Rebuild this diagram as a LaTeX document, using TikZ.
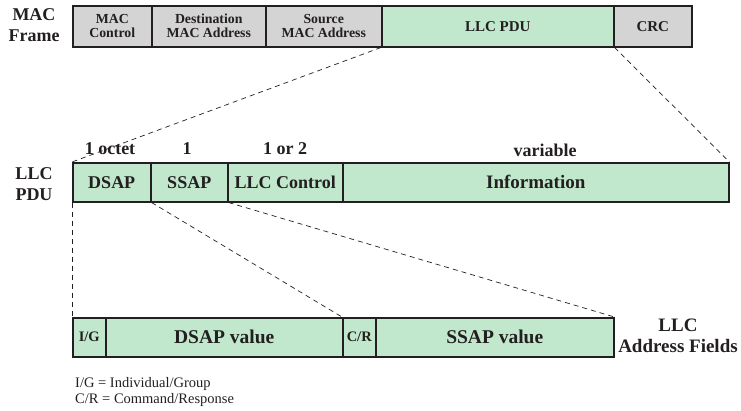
\documentclass[tikz,border=0pt]{standalone}
\usepackage{fontspec}
\setmainfont{Liberation Serif}
\definecolor{macgray}{RGB}{212,212,212}
\definecolor{llcgreen}{RGB}{193,232,205}
\definecolor{ink}{RGB}{35,31,32}
\begin{document}
\begin{tikzpicture}[x=1pt,y=-1pt,
  field/.style={draw=ink,line width=1.5pt,inner sep=0pt,anchor=north west,align=center,text=ink,font=\bfseries},
  gray/.style={fill=macgray},
  green/.style={fill=llcgreen},
  lbl/.style={text=ink,font=\bfseries\fontsize{18}{21}\selectfont,align=center,inner sep=0pt},
  dashline/.style={draw=ink,line width=0.7pt,dash pattern=on 5pt off 4pt}]
\useasboundingbox (0,0) rectangle (741,410);
% MAC frame
\def\ta{\fontsize{13.8}{14}\selectfont}
\node[field,gray,minimum width=79pt,minimum height=41pt,font=\bfseries\ta] (macc) at (72,5) {MAC\\Control};
\node[field,gray,minimum width=114pt,minimum height=41pt,font=\bfseries\ta] (dmac) at (151,5) {Destination\\MAC Address};
\node[field,gray,minimum width=116pt,minimum height=41pt,font=\bfseries\ta] (smac) at (265,5) {Source\\MAC Address};
\node[field,green,minimum width=232pt,minimum height=41pt,font=\bfseries\fontsize{15}{15}\selectfont] (llcpdu) at (381,5) {LLC PDU};
\node[field,gray,minimum width=78pt,minimum height=41pt,font=\bfseries\fontsize{15}{15}\selectfont] (crc) at (613,5) {CRC};
\node[lbl] (macframe) at (34,25) {MAC\\Frame};
% LLC PDU
\def\tb{\fontsize{18}{18}\selectfont}
\node[field,green,minimum width=78pt,minimum height=39pt,font=\bfseries\tb] (dsap) at (72,162) {DSAP};
\node[field,green,minimum width=77pt,minimum height=39pt,font=\bfseries\tb] (ssap) at (150,162) {SSAP};
\node[field,green,minimum width=115pt,minimum height=39pt,font=\bfseries\tb] (llcc) at (227,162) {LLC Control};
\node[field,green,minimum width=386pt,minimum height=39pt,font=\bfseries\fontsize{19}{19}\selectfont] (info) at (342,162) {Information};
\node[lbl] (llcpdulbl) at (34,184) {LLC\\PDU};
\node[lbl] (o1) at (110,149) {1 octet};
\node[lbl] (o2) at (187,149) {1};
\node[lbl] (o3) at (285,149) {1 or 2};
\node[lbl] (o4) at (545,150) {variable};
% Address fields
\node[field,green,minimum width=33pt,minimum height=39pt,font=\bfseries\fontsize{14.5}{15}\selectfont] (ig) at (72,317) {I/G};
\node[field,green,minimum width=237pt,minimum height=39pt,font=\bfseries\fontsize{19.5}{20}\selectfont] (dval) at (105,317) {DSAP value};
\node[field,green,minimum width=33pt,minimum height=39pt,font=\bfseries\fontsize{14.5}{15}\selectfont] (cr) at (342,317) {C/R};
\node[field,green,minimum width=238pt,minimum height=39pt,font=\bfseries\fontsize{19.5}{20}\selectfont] (sval) at (375,317) {SSAP value};
\node[lbl,font=\bfseries\fontsize{19}{21}\selectfont] (afl) at (678,336) {LLC\\Address Fields};
% legend
\node[text=ink,anchor=west,align=left,inner sep=0pt,font=\fontsize{14.5}{15.5}\selectfont] (legend) at (75,392) {I/G = Individual/Group\\C/R = Command/Response};
% dashed connectors
\draw[dashline] (llcpdu.south west) -- (dsap.north west);
\draw[dashline] (llcpdu.south east) -- (info.north east);
\draw[dashline] (dsap.south west) -- (ig.north west);
\draw[dashline] (dsap.south east) -- (cr.north west);
\draw[dashline] (ssap.south east) -- (sval.north east);
\end{tikzpicture}
\end{document}
